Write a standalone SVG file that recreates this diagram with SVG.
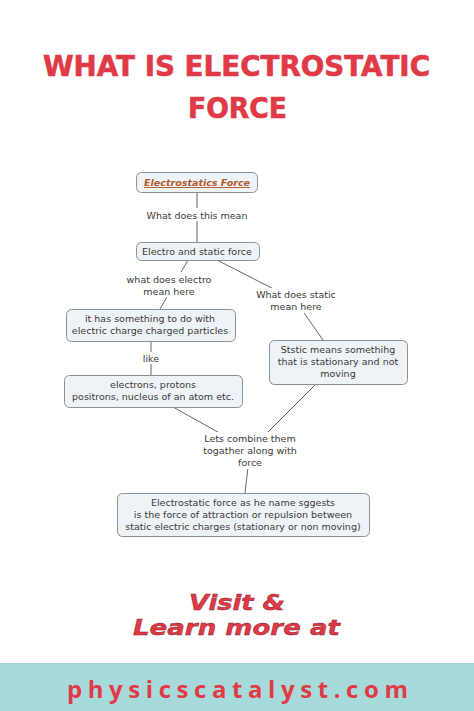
<svg xmlns="http://www.w3.org/2000/svg" width="474" height="711" viewBox="0 0 474 711">
<style>
.title{font-family:"DejaVu Sans","Liberation Sans",sans-serif;font-weight:bold;fill:#e03a47;font-size:28px;stroke:#e03a47;stroke-width:0.6}
.box{fill:#eef3f7;stroke:#8c9196;stroke-width:1}
.nt{font-family:"DejaVu Sans","Liberation Sans",sans-serif;font-size:9.5px;fill:#3a3a3a;text-anchor:middle}
.lbl{font-family:"DejaVu Sans","Liberation Sans",sans-serif;font-size:9.5px;fill:#3a3a3a;text-anchor:middle}
.con line{stroke:#666;stroke-width:1}
.visit{font-family:"DejaVu Sans","Liberation Sans",sans-serif;font-weight:bold;font-style:italic;fill:#e03a47;stroke:#8a1d25;stroke-width:0.4;font-size:21px}
</style>
<rect width="474" height="711" fill="#ffffff"/>
<g id="title">
<text class="title" x="43" y="76" textLength="387" lengthAdjust="spacingAndGlyphs">WHAT IS ELECTROSTATIC</text>
<text class="title" x="188" y="118" textLength="99" lengthAdjust="spacingAndGlyphs">FORCE</text>
</g>
<g id="connectors" class="con">
<line x1="197" y1="192" x2="197" y2="242"/>
<line x1="188" y1="260" x2="160" y2="309"/>
<line x1="217" y1="260" x2="295" y2="300"/>
<line x1="295" y1="300" x2="323" y2="340"/>
<line x1="151" y1="341" x2="151" y2="375"/>
<line x1="173" y1="407" x2="250" y2="450"/>
<line x1="316" y1="384" x2="250" y2="450"/>
<line x1="250" y1="450" x2="245" y2="493"/>
</g>
<g id="labels">
<rect x="143" y="208" width="108" height="13" fill="#fff"/>
<text class="lbl" x="197" y="219">What does this mean</text>
<rect x="123" y="272" width="92" height="25" fill="#fff"/>
<text class="lbl" x="169" y="283">what does electro</text>
<text class="lbl" x="169" y="295">mean here</text>
<rect x="252" y="288" width="86" height="25" fill="#fff"/>
<text class="lbl" x="296" y="298">What does static</text>
<text class="lbl" x="296" y="310">mean here</text>
<rect x="140" y="352" width="22" height="12" fill="#fff"/>
<text class="lbl" x="151" y="362">like</text>
<rect x="200" y="432" width="100" height="37" fill="#fff"/>
<text class="lbl" x="250" y="442">Lets combine them</text>
<text class="lbl" x="250" y="454">togather along with</text>
<text class="lbl" x="250" y="466">force</text>
</g>
<g id="n1">
<rect class="box" x="136.5" y="172.5" width="121" height="20" rx="5"/>
<text x="197" y="186" font-family="DejaVu Sans, sans-serif" font-size="9.5" font-weight="bold" font-style="italic" fill="#b35a2c" text-anchor="middle" text-decoration="underline" textLength="106" lengthAdjust="spacingAndGlyphs">Electrostatics Force</text>
</g>
<g id="n2">
<rect class="box" x="136.5" y="242.5" width="123" height="18" rx="5"/>
<text class="nt" x="197" y="255">Electro and static force</text>
</g>
<g id="n3">
<rect class="box" x="66.5" y="309.5" width="169" height="32" rx="5"/>
<text class="nt" x="150" y="322">it has something to do with</text>
<text class="nt" x="150" y="334">electric charge charged particles</text>
</g>
<g id="n4">
<rect class="box" x="269.5" y="340.5" width="138" height="44" rx="5"/>
<text class="nt" x="338" y="353">Ststic means somethihg</text>
<text class="nt" x="338" y="365">that is stationary and not</text>
<text class="nt" x="338" y="377">moving</text>
</g>
<g id="n5">
<rect class="box" x="64.5" y="375.5" width="178" height="32" rx="5"/>
<text class="nt" x="153" y="388">electrons, protons</text>
<text class="nt" x="153" y="400">positrons, nucleus of an atom etc.</text>
</g>
<g id="n6">
<rect class="box" x="117.5" y="493.5" width="252" height="43" rx="5"/>
<text class="nt" x="243" y="506">Electrostatic force as he name sggests</text>
<text class="nt" x="243" y="518">is the force of attraction or repulsion between</text>
<text class="nt" x="243" y="530">static electric charges (stationary or non moving)</text>
</g>
<g id="footer">
<text class="visit" x="189" y="610" textLength="96" lengthAdjust="spacingAndGlyphs">Visit &amp;</text>
<text class="visit" x="133" y="635" textLength="207" lengthAdjust="spacingAndGlyphs">Learn more at</text>
<rect x="0" y="663" width="474" height="48" fill="#a8dadc"/>
<text x="67" y="698" font-family="Open Sans, Liberation Sans, sans-serif" font-weight="bold" font-size="24" fill="#e03a47" textLength="341" lengthAdjust="spacing">physicscatalyst.com</text>
</g>
</svg>
